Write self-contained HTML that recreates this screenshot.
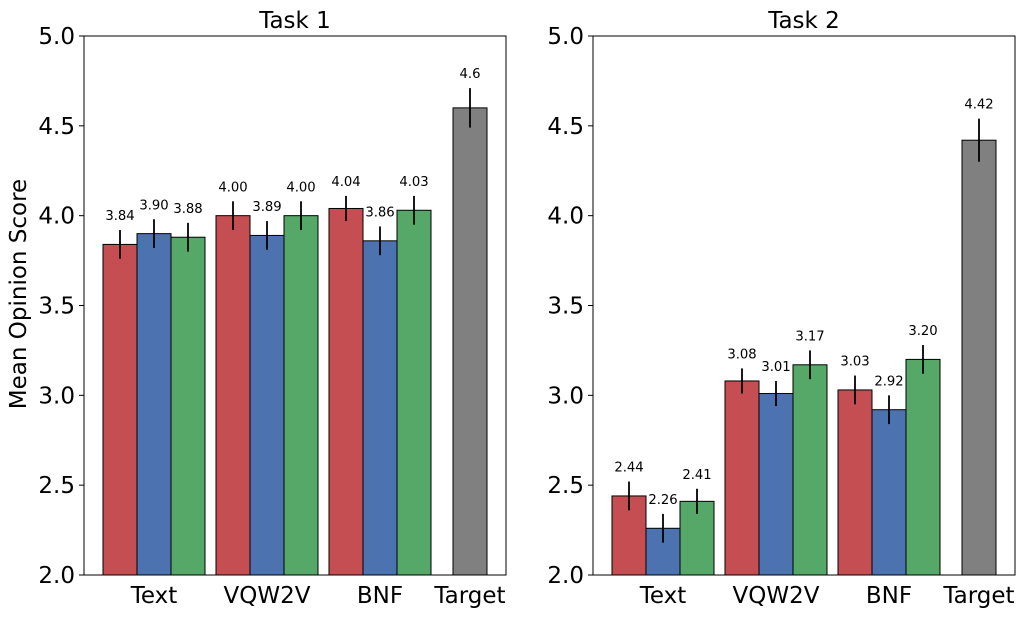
<!DOCTYPE html>
<html><head><meta charset="utf-8"><style>
body{margin:0;background:#fff;}
svg{display:block;font-family:"DejaVu Sans","Liberation Sans",sans-serif;}
</style></head><body>
<svg id="c" width="1024" height="618" viewBox="0 0 1024 618" xmlns="http://www.w3.org/2000/svg"></svg>
<script>
const categories = ["Text","VQW2V","BNF","Target"];
const task1Values = [[3.84,3.90,3.88],[4.00,3.89,4.00],[4.04,3.86,4.03],[4.6]];
const task1Errors = [[0.08,0.08,0.08],[0.08,0.08,0.08],[0.07,0.08,0.08],[0.11]];
const task1Labels = [["3.84","3.90","3.88"],["4.00","3.89","4.00"],["4.04","3.86","4.03"],["4.6"]];
const task2Values = [[2.44,2.26,2.41],[3.08,3.01,3.17],[3.03,2.92,3.20],[4.42]];
const task2Errors = [[0.08,0.08,0.07],[0.07,0.07,0.08],[0.08,0.08,0.08],[0.12]];
const task2Labels = [["2.44","2.26","2.41"],["3.08","3.01","3.17"],["3.03","2.92","3.20"],["4.42"]];
const yTicks = [2.0,2.5,3.0,3.5,4.0,4.5,5.0];
const yTickLabels = ["2.0","2.5","3.0","3.5","4.0","4.5","5.0"];
const titles = ["Task 1","Task 2"];

const NS="http://www.w3.org/2000/svg";
const svg=document.getElementById('c');
function mk(tag,attrs,parent){const e=document.createElementNS(NS,tag);for(const k in attrs)e.setAttribute(k,attrs[k]);(parent||svg).appendChild(e);return e;}
const colors=["#c44e52","#4c72b0","#55a868"];
const plotTop=36,plotBot=575,ymin=2,ymax=5;
function yScale(v){return plotBot-(v-ymin)/(ymax-ymin)*(plotBot-plotTop);}
const bw=34;
const groupCenters=[154,267,380,470];
function drawPanel(p,x0,vals,errs,labs){
  const g=mk('g',{});
  
  
  const w=422;
  const t=mk('text',{x:x0+w/2,y:28,'text-anchor':'middle','font-size':23,fill:'#000'},g);
  t.textContent=titles[p];
  
  
  vals.forEach((grp,i)=>{
    const cx=x0+(groupCenters[i]-84);
    grp.forEach((v,j)=>{
      const n=grp.length;
      const bx=cx-n*bw/2+j*bw;
      const col=n===1?"#808080":colors[j];
      const r=mk('rect',{x:bx,y:yScale(v),width:bw,height:plotBot-yScale(v),fill:col,stroke:'#000','stroke-width':1},g);
      
      
      const e=errs[i][j];
      const ex=bx+bw/2;
      const l=mk('line',{x1:ex,x2:ex,y1:yScale(v+e),y2:yScale(v-e),stroke:'#000','stroke-width':1.8},g);
      
      
      const tl=mk('text',{x:ex,y:yScale(v+e)-10,'text-anchor':'middle','font-size':13.2,fill:'#000'},g);
      tl.textContent=labs[i][j];
      
      
    });
    const xl=mk('text',{x:cx,y:603,'text-anchor':'middle','font-size':23,fill:'#000'},g);
    xl.textContent=categories[i];
    
    
  });
  yTicks.forEach((v,k)=>{
    mk('line',{x1:x0-5,x2:x0,y1:yScale(v),y2:yScale(v),stroke:'#000','stroke-width':1},g);
    const tt=mk('text',{x:x0-9,y:yScale(v)+8,'text-anchor':'end','font-size':23,fill:'#000'},g);
    tt.textContent=yTickLabels[k];
    
    
  });
  const fr=mk('rect',{x:x0,y:plotTop,width:w,height:plotBot-plotTop,fill:'none',stroke:'#000','stroke-width':1},g);
  
  
}
drawPanel(0,84,task1Values,task1Errors,task1Labels);
drawPanel(1,593,task2Values,task2Errors,task2Labels);
const yl=mk('text',{x:0,y:0,'text-anchor':'middle','font-size':23,fill:'#000',transform:'translate(26,294) rotate(-90)'});
yl.textContent="Mean Opinion Score";


</script>
</body></html>
